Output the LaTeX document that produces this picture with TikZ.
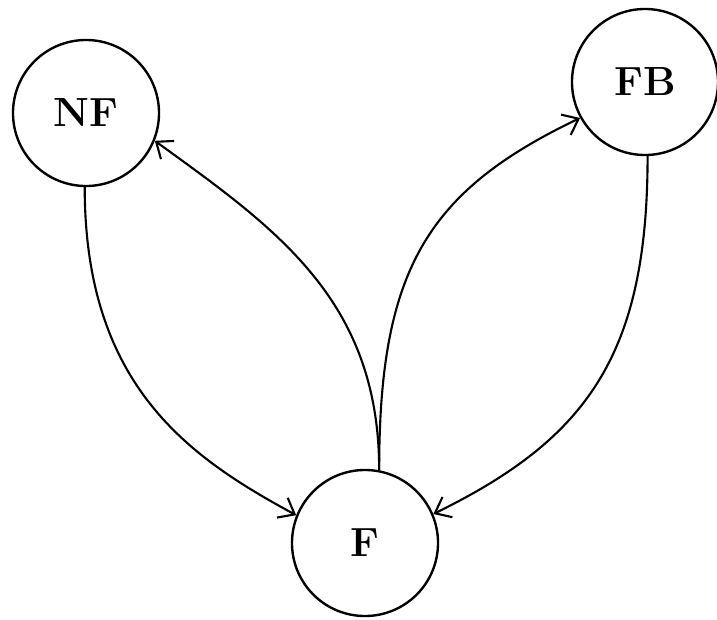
\documentclass[tikz,border=0pt]{standalone}
\usetikzlibrary{arrows.meta}
\begin{document}
\begin{tikzpicture}[x=0.025cm,y=-0.025cm,
  state/.style={circle,draw,line width=1.7pt,minimum size=3.65cm,inner sep=0pt,
    font=\fontsize{29}{32}\selectfont\bfseries},
  edge/.style={line width=1.5pt,-{Straight Barb[length=10pt,width=16pt,line width=1.5pt]}}]
\useasboundingbox (0,0) rectangle (717,619);
\node[state] (NF) at (86,113) {NF};
\node[state] (FB) at (645,82) {FB};
\node[state] (F) at (365,543) {F};
\draw[edge] (NF.-91) .. controls +(0,200) and +(-105,-57) .. (F.158);
\draw[edge] (F.79) .. controls +(0,-170) and +(121.5,88) .. (NF.-22);
\draw[edge] (F.79) .. controls +(0,-200) and +(-153.3,73.3) .. (FB.209);
\draw[edge] (FB.-88) .. controls +(0,200) and +(152.7,-74.8) .. (F.23);
\end{tikzpicture}
\end{document}
